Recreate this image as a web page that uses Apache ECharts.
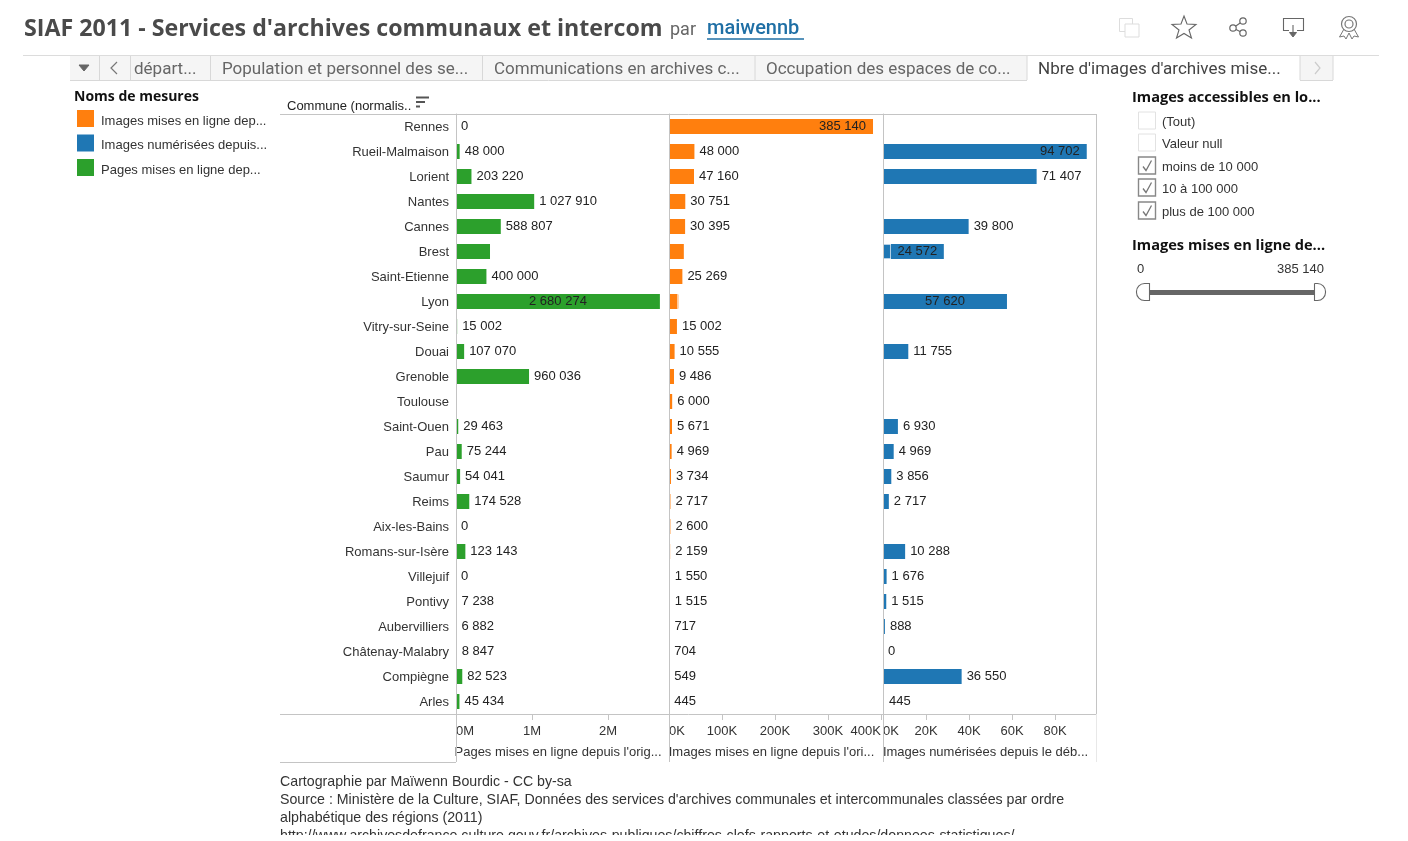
<!DOCTYPE html>
<html><head><meta charset="utf-8">
<style>html,body{margin:0;padding:0;background:#fff;overflow:hidden}#c{width:1408px;height:841px}</style>
<script src="https://cdn.jsdelivr.net/npm/echarts@6/dist/echarts.min.js"></script>
</head><body><div id="c"></div>
<script>
const communes = ["Rennes","Rueil-Malmaison","Lorient","Nantes","Cannes","Brest","Saint-Etienne","Lyon","Vitry-sur-Seine","Douai","Grenoble","Toulouse","Saint-Ouen","Pau","Saumur","Reims","Aix-les-Bains","Romans-sur-Isère","Villejuif","Pontivy","Aubervilliers","Châtenay-Malabry","Compiègne","Arles"];
const pagesEnLigne = [0,48000,203220,1027910,588807,447000,400000,2680274,15002,107070,960036,null,29463,75244,54041,174528,0,123143,0,7238,6882,8847,82523,45434];
const imagesEnLigne = [385140,48000,47160,30751,30395,28000,25269,16000,15002,10555,9486,6000,5671,4969,3734,2717,2600,2159,1550,1515,717,704,549,445];
const imagesEnLignePart = [null,null,null,null,null,null,null,3000,null,null,null,null,null,null,null,null,null,null,null,null,null,null,null,null];
const imagesNumerisees = [null,94702,71407,null,39800,24572,null,57620,null,11755,null,null,6930,4969,3856,2717,null,10288,1676,1515,888,0,36550,445];
const imagesNumeriseesPart = [null,null,null,null,null,3700,null,null,null,null,null,null,null,null,null,null,null,null,null,null,null,null,null,null];
const legendNames = ["Images mises en ligne dep...","Images numérisées depuis...","Pages mises en ligne dep..."];
const axisTitles = ["Pages mises en ligne depuis l'orig...","Images mises en ligne depuis l'ori...","Images numérisées depuis le déb..."];
const ticksPages = [0,1000000,2000000];
const ticksEnLigne = [0,100000,200000,300000,400000];
const ticksNum = [0,20000,40000,60000,80000];
const filterItems = ["(Tout)","Valeur null","moins de 10 000","10 à 100 000","plus de 100 000"];
const filterChecked = [false,false,true,true,true];
const tabs = ["départ...","Population et personnel des se...","Communications en archives c...","Occupation des espaces de co...","Nbre d'images d'archives mise..."];
const footer = ["Cartographie par Maïwenn Bourdic - CC by-sa","Source : Ministère de la Culture, SIAF, Données des services d'archives communales et intercommunales classées par ordre","alphabétique des régions (2011)","http://www.archivesdefrance.culture.gouv.fr/archives-publiques/chiffres-clefs-rapports-et-etudes/donnees-statistiques/"];

const FONT = '"Liberation Sans", Arial, sans-serif';
const INK = '#333', GRID = '#c4c4c4';
const fmt = v => String(v).replace(/\B(?=(\d{3})+$)/g, ' ');
const place = {
  pages: {Lyon:{position:'inside'}, Brest:{show:false}},
  enLigne: {Rennes:{position:'insideRight',distance:7}, Brest:{show:false}, Lyon:{show:false}},
  num: {'Rueil-Malmaison':{position:'insideRight',distance:7}, Brest:{position:'inside'}, Lyon:{position:'inside'}}
};
const items = (vals, over) => vals.map((v,i)=> over[communes[i]] ? {value:v,label:over[communes[i]]} : v);
const barBase = {type:'bar', barWidth:15, silent:true, animation:false};
const lab = {show:true, position:'right', distance:5, color:'#222', fontFamily:FONT, fontSize:13, formatter:p=>fmt(p.value)};
const C = {orange:'#ff7f0e', blue:'#1f77b4', green:'#2ca02c'};
const leadStyle = c => ({color:c, borderColor:'rgba(255,255,255,.35)', borderWidth:1});

const G = [];
const t = (x,y,s,o={}) => G.push({type:'text',x,y:y+2,silent:true,z:10,style:{text:s,fill:o.c||INK,font:(o.w?o.w+' ':'')+(o.s||13)+'px '+(o.f||FONT),textAlign:o.a||'left',textVerticalAlign:'middle'}});
const r = (x,y,w,h,o={}) => G.push({type:'rect',silent:true,z:o.z||5,shape:{x,y,width:w,height:h,r:o.r||0},style:{fill:o.fill||'none',stroke:o.stroke||null,lineWidth:o.lw||1}});
const l = (x1,y1,x2,y2,c=GRID,w=1) => G.push({type:'line',silent:true,z:6,shape:{x1,y1,x2,y2},style:{stroke:c,lineWidth:w}});
const pl = (pts,c,w=1,fill) => G.push({type:fill?'polygon':'polyline',silent:true,z:6,shape:{points:pts},style:{stroke:c,lineWidth:w,fill:fill||'none'}});
const ci = (cx,cy,rad,c,w=1.2) => G.push({type:'circle',silent:true,z:6,shape:{cx,cy,r:rad},style:{stroke:c,lineWidth:w,fill:'#fff'}});

// header
t(24,27,"SIAF 2011 - Services d'archives communaux et intercom",{w:'bold',s:23.2,f:'"Open Sans"',c:'#4a4a4a'});
t(670,28,"par",{s:18,f:'Roboto',c:'#666'});
t(707,27,"maiwennb",{s:20,f:'Roboto',w:'500',c:'#1f6fa5'});
l(707,39,804,39,'#1f6fa5',1.5);
l(23,55.5,1379,55.5,'#dcdcdc');
// icons
r(1119.5,18.5,13,13,{stroke:'#ddd'}); r(1125,24,14,13,{stroke:'#ddd',fill:'#fff'});
pl([[1184,16],[1187,24],[1196,24.5],[1189,30],[1191.5,38],[1184,33.5],[1176.5,38],[1179,30],[1172,24.5],[1181,24]],'#666',1.1,'#fff');
l(1243,21,1233,28,'#666',1.1); l(1233,28,1243,33,'#666',1.1);
ci(1243,21,3.2,'#666'); ci(1233,28,3.2,'#666'); ci(1243,33,3.2,'#666');
pl([[1289,30.5],[1283.5,30.5],[1283.5,18.5],[1303.5,18.5],[1303.5,30.5],[1297,30.5]],'#666',1.1);
l(1293,25,1293,33,'#666',1.1); pl([[1289.5,32.5],[1296.5,32.5],[1293,37]],'#666',1,'#666');
pl([[1344,29],[1339.5,37],[1344,36],[1346,39],[1349,33],[1352,39],[1354,36],[1358.5,37],[1354,29]],'#777',1);
ci(1349,24,7.5,'#777'); ci(1349,24,4,'#777');
// tabs
r(70,56,1263,24,{fill:'#f5f5f5'});
r(1027,56,273,25,{fill:'#fff',z:6});
l(70,80.5,1027,80.5,'#d8d8d8'); l(1300,80.5,1333,80.5,'#d8d8d8');
[99.5,130.5,210.5,482.5,755,1027,1300,1333].forEach(x=>l(x,56,x,80,'#d8d8d8'));
pl([[79,65],[89,65],[84,71]],'#666',1,'#666');
pl([[117,62],[111,68],[117,74]],'#777',1.2);
pl([[1315,62],[1320,68],[1315,74]],'#ccc',1.2);
const tabX=[134,222,494,766,1038];
tabs.forEach((s,i)=>t(tabX[i],67.5,s,{s:17,f:'Roboto',c:i==4?'#444':'#666'}));
// legend title & axis header
t(74,95.5,"Noms de mesures",{w:'bold',s:14,f:'"Open Sans"',c:'#111'});
t(287,104.5,"Commune (normalis..",{s:13,c:'#222'});
l(416,97.5,429,97.5,'#555',2); l(416,102,425,102,'#555',2); l(416,106.5,420,106.5,'#555',2);
// frame
l(280,114.5,1097,114.5); l(280,714.5,1097,714.5); l(1096.5,114,1096.5,714); l(280,762.5,456,762.5);
[456.5,669.5,883.5].forEach(x=>l(x,714,x,762)); l(1096.5,714,1096.5,762,'#e8e8e8');
// right filters
t(1132,95.5,"Images accessibles en lo...",{w:'bold',s:14.6,f:'"Open Sans"',c:'#111'});
const cbY=[120,142,165,187,210];
filterItems.forEach((s,i)=>{
  const y=cbY[i];
  r(1138.5,y-8,17,17,{stroke:filterChecked[i]?'#888':'#e2e2e2',lw:filterChecked[i]?1.4:1,fill:'#fff'});
  if(filterChecked[i]) pl([[1143,y+1.5],[1146,y+5.5],[1151.5,y-4.5]],'#777',1.3);
  t(1162,y,s,{s:13,c:'#333'});
});
t(1132,243.5,"Images mises en ligne de...",{w:'bold',s:14.6,f:'"Open Sans"',c:'#111'});
t(1137,267,"0",{s:13});
t(1324,267,"385 140",{s:13,a:'right'});
G.push({type:'rect',silent:true,z:6,shape:{x:1148,y:290,width:167,height:5},style:{fill:'#666'}});
r(1136.5,283.5,13,17,{fill:'#fff',stroke:'#666',lw:1.1,z:7,r:[8,0,0,8]});
r(1314.5,283.5,11,17,{fill:'#fff',stroke:'#666',lw:1.1,z:7,r:[0,8,8,0]});
// footer
[780,798,816,834].forEach((y,i)=>t(280,y,footer[i],{s:14.2,c:'#333'}));
r(270,835,860,12,{fill:'#fff',z:20});

const panes=[{left:456,width:213},{left:669,width:214},{left:883,width:213}];
const namePad=[9,9,8];
const xCommon=(i,max,ticks,unit,div)=>({
  type:'value',gridIndex:i,min:0,max,position:'bottom',
  axisLine:{show:false},splitLine:{show:false},
  axisTick:{show:true,length:6,lineStyle:{color:GRID},customValues:ticks},
  axisLabel:{show:true,margin:11,fontFamily:FONT,fontSize:13,color:'#333',hideOverlap:false,customValues:ticks,alignMinLabel:'left',alignMaxLabel:i==1?'right':'center',formatter:v=>(v/div)+unit},
  name:axisTitles[i],nameLocation:'middle',nameGap:32,nameTextStyle:{fontFamily:FONT,fontSize:13,color:'#333',padding:[0,namePad[i],0,0]}
});
const yCommon=(i)=>({
  type:'category',gridIndex:i,data:communes,inverse:true,z:3,
  axisLine:{show:true,onZero:false,lineStyle:{color:GRID}},axisTick:{show:false},splitLine:{show:false},
  axisLabel:{show:i==0,margin:7,fontFamily:FONT,fontSize:13,color:'#333',interval:0,verticalAlign:'top',lineHeight:2}
});

const chart=echarts.init(document.getElementById('c'),null,{renderer:'canvas'});
chart.setOption({
  animation:false,backgroundColor:'#fff',
  graphic:{elements:G},
  legend:{data:legendNames,orient:'vertical',left:77,top:110,padding:0,itemWidth:17,itemHeight:17,itemGap:7,selectedMode:false,icon:'rect',itemStyle:{borderWidth:0},formatter:'{a|{name}}',textStyle:{padding:[0,0,0,2],rich:{a:{fontFamily:FONT,fontSize:13,color:'#333',padding:[5,0,0,0]}}}},
  grid:panes.map(p=>({left:p.left,width:p.width,top:114,height:600,containLabel:false})),
  xAxis:[xCommon(0,2800000,ticksPages,'M',1e6),xCommon(1,404000,ticksEnLigne,'K',1e3),xCommon(2,99000,ticksNum,'K',1e3)],
  yAxis:[yCommon(0),yCommon(1),yCommon(2)],
  series:[
    {...barBase,name:legendNames[2],xAxisIndex:0,yAxisIndex:0,itemStyle:{color:C.green},data:items(pagesEnLigne,place.pages),label:lab},
    {...barBase,name:legendNames[0],xAxisIndex:1,yAxisIndex:1,stack:'o',itemStyle:{color:C.orange},data:items(imagesEnLigne,place.enLigne),label:lab},
    {...barBase,name:legendNames[0],xAxisIndex:1,yAxisIndex:1,stack:'o',itemStyle:leadStyle(C.orange),data:imagesEnLignePart},
    {...barBase,name:legendNames[1],xAxisIndex:2,yAxisIndex:2,stack:'b',itemStyle:leadStyle(C.blue),data:imagesNumeriseesPart},
    {...barBase,name:legendNames[1],xAxisIndex:2,yAxisIndex:2,stack:'b',itemStyle:{color:C.blue},data:items(imagesNumerisees,place.num),label:lab}
  ]
});
</script></body></html>
